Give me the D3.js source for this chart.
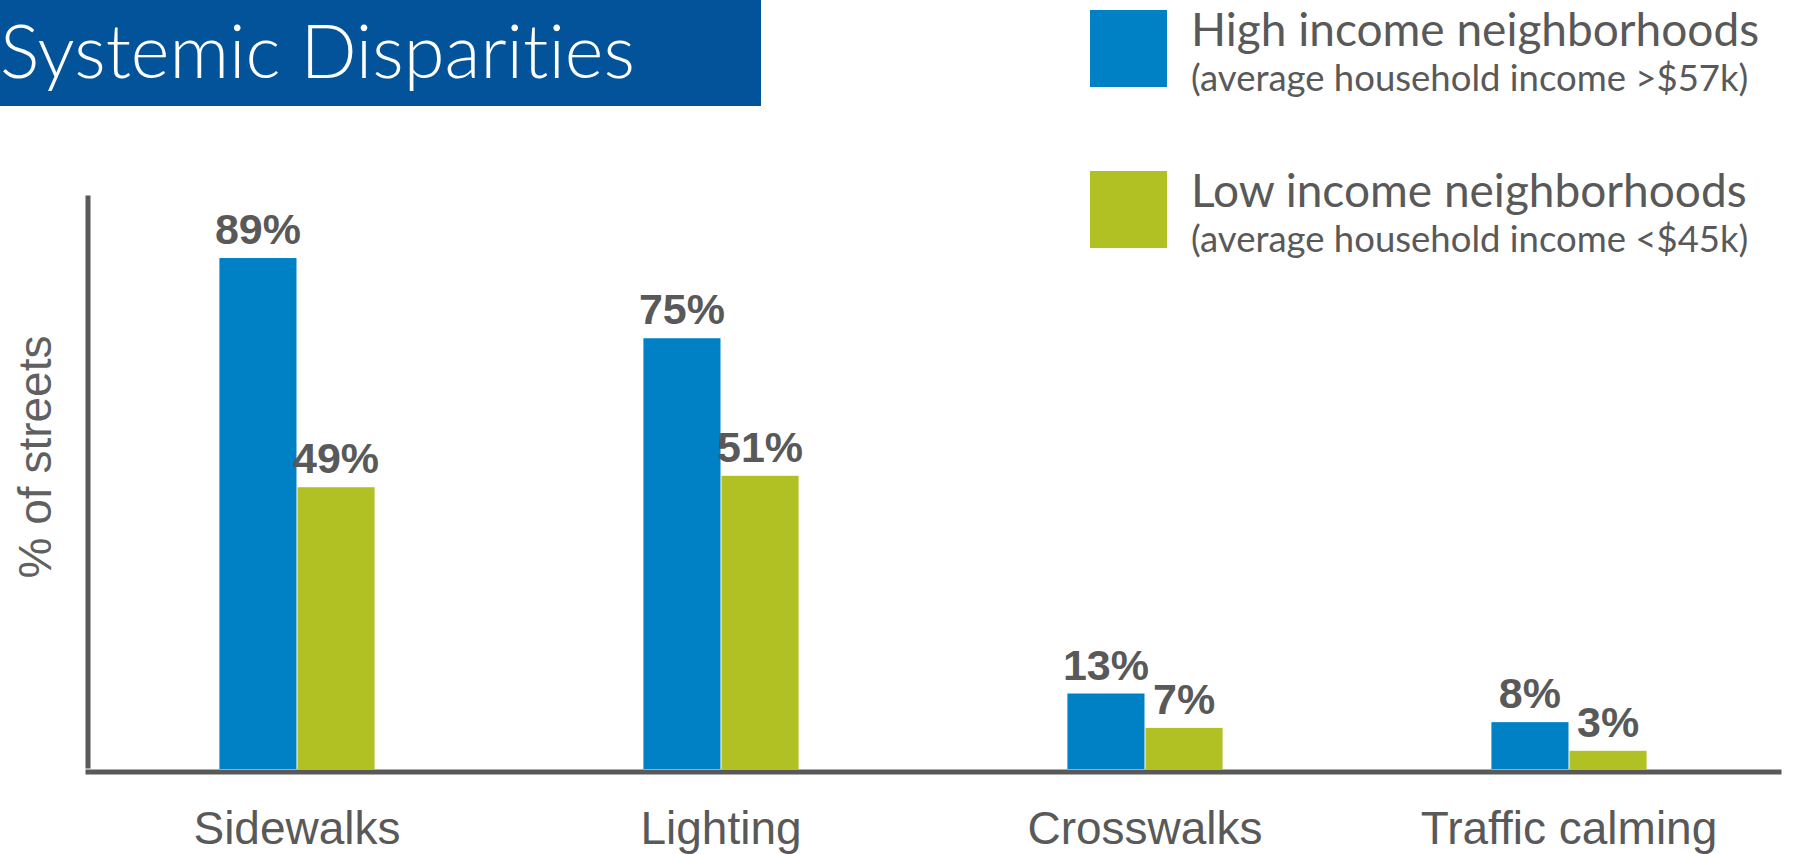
<!DOCTYPE html>
<html>
<head>
<meta charset="utf-8">
<script src="https://cdn.jsdelivr.net/npm/d3@7"></script>
<style>
  html, body { margin: 0; padding: 0; background: #fff; }
  svg { display: block; }
  text { font-variant-ligatures: none; }
</style>
</head>
<body>
<script>
const categories = ["Sidewalks", "Lighting", "Crosswalks", "Traffic calming"];
const highIncome = [89, 75, 13, 8];
const lowIncome = [49, 51, 7, 3];
const seriesKeys = ["high", "low"];
const seriesNames = ["High income neighborhoods", "Low income neighborhoods"];
const seriesNotes = ["(average household income >$57k)", "(average household income <$45k)"];
const seriesColors = ["#0081c6", "#b1c124"];

const w = 1796;
const h = 854;
const grey = "#595959";

const dataset = categories.map((c, i) => ({ category: c, high: highIncome[i], low: lowIncome[i] }));

const svg = d3.select("body")
              .append("svg")
              .attr("width", w)
              .attr("height", h);

const x0 = d3.scaleBand()
             .domain(categories)
             .range([85, 1781])
             .paddingInner(0.634)
             .paddingOuter(0.317);

const x1 = d3.scaleBand()
             .domain(seriesKeys)
             .range([0, x0.bandwidth()])
             .paddingInner(0.013);

const yScale = d3.scaleLinear()
                 .domain([0, 100])
                 .range([768, 195]);

const color = d3.scaleOrdinal().domain(seriesKeys).range(seriesColors);

// title banner
svg.append("rect")
  .attr("x", 0).attr("y", 0)
  .attr("width", 761).attr("height", 106)
  .attr("fill", "#03539a");

svg.append("text")
  .attr("id", "title")
  .attr("x", 0)
  .attr("y", 78)
  .attr("fill", "#fff")
  .style("font-family", "Lato")
  .style("font-weight", 300)
  .style("font-size", "74px")
  .text("Systemic Disparities");

// axes
const xAxis = d3.axisBottom(x0).tickSize(0).tickPadding(40);
const yAxis = d3.axisLeft(yScale).tickValues([]).tickSize(0);

const gx = svg.append("g")
  .attr("id", "x-axis")
  .attr("transform", "translate(0,771.5)")
  .call(xAxis);
gx.select(".domain").attr("stroke", grey).attr("stroke-width", 5);
gx.selectAll(".tick text")
  .attr("fill", grey)
  .style("font-family", "'Liberation Sans', Arial, sans-serif")
  .style("font-size", "46px");

const gy = svg.append("g")
  .attr("id", "y-axis")
  .attr("transform", "translate(87.5,0)")
  .call(yAxis);
gy.select(".domain").attr("stroke", grey).attr("stroke-width", 5);

svg.append("text")
  .attr("transform", "translate(51," + 457 + ") rotate(-90)")
  .attr("text-anchor", "middle")
  .attr("fill", "#606060")
  .style("font-family", "'Liberation Sans', Arial, sans-serif")
  .style("font-size", "46px")
  .text("% of streets");

// bars
const groups = svg.selectAll(".group")
  .data(dataset)
  .enter()
  .append("g")
  .attr("class", "group")
  .attr("transform", d => "translate(" + x0(d.category) + ",0)");

const cells = groups.selectAll(".cell")
  .data(d => seriesKeys.map(k => ({ key: k, value: d[k] })))
  .enter();

cells.append("rect")
  .attr("class", "bar")
  .attr("x", d => x1(d.key))
  .attr("y", d => yScale(d.value))
  .attr("width", x1.bandwidth())
  .attr("height", d => yScale(0) + 1 - yScale(d.value))
  .attr("fill", d => color(d.key));

cells.append("text")
  .attr("x", d => x1(d.key) + x1.bandwidth() / 2)
  .attr("y", d => yScale(d.value) - 14)
  .attr("text-anchor", "middle")
  .attr("fill", grey)
  .style("font-family", "'Liberation Sans', Arial, sans-serif")
  .style("font-weight", "bold")
  .style("font-size", "43px")
  .text(d => d.value + "%");

// legend
const legend = svg.selectAll(".legend")
  .data(seriesKeys)
  .enter()
  .append("g")
  .attr("class", "legend")
  .attr("transform", (d, i) => "translate(1090," + (10 + i * 161) + ")");

legend.append("rect")
  .attr("width", 77)
  .attr("height", 77)
  .attr("fill", d => color(d));

legend.append("text")
  .attr("x", 101)
  .attr("y", 36)
  .attr("fill", grey)
  .style("font-family", "Lato")
  .style("font-size", "46px")
  .text((d, i) => seriesNames[i]);

legend.append("text")
  .attr("x", 101)
  .attr("y", 81)
  .attr("fill", grey)
  .style("font-family", "Lato")
  .style("font-size", "36.5px")
  .text((d, i) => seriesNotes[i]);
</script>
</body>
</html>
